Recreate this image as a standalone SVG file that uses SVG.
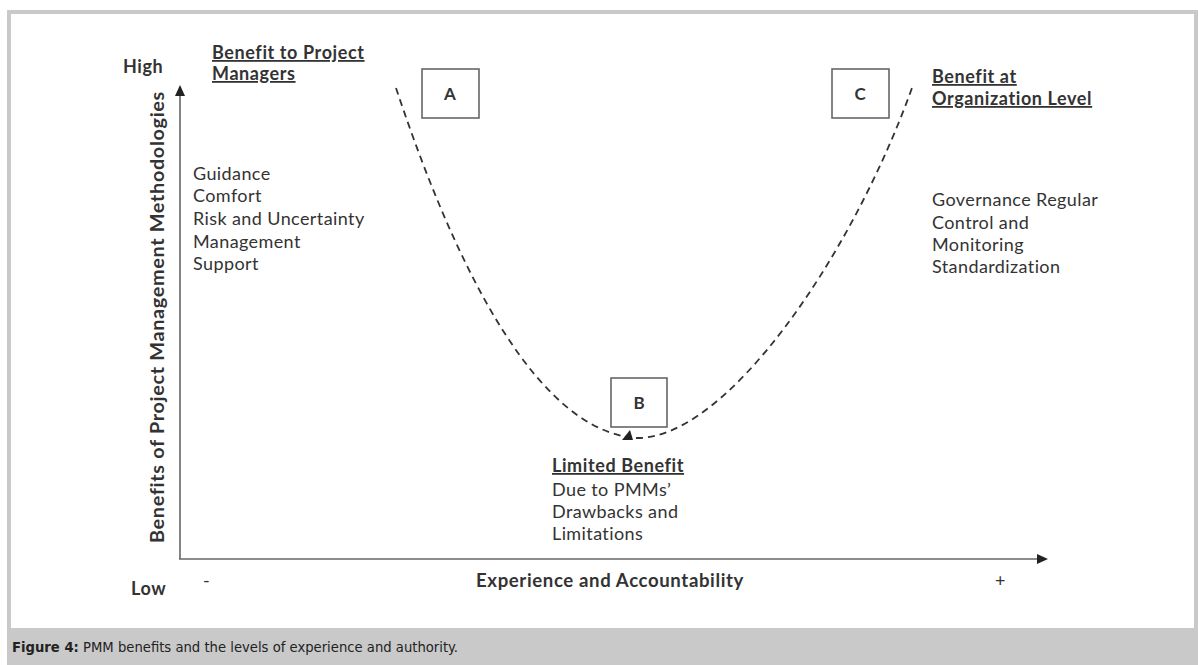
<svg xmlns="http://www.w3.org/2000/svg" width="1198" height="665" viewBox="0 0 1198 665">
<defs>
<style>
.t{font-family:Lato,"Open Sans","Liberation Sans",sans-serif;fill:#333;font-size:18px;letter-spacing:0.4px}
.b{font-weight:bold;letter-spacing:0.6px}
.u{text-decoration:underline}
.box{fill:#fff;stroke:#666;stroke-width:1.6}
.lbl{font-family:Lato,"Open Sans","Liberation Sans",sans-serif;fill:#333;font-size:17px;text-anchor:middle;font-weight:bold}
.axis{stroke:#666;stroke-width:1.6;fill:none}
.curve{stroke:#333;stroke-width:1.8;fill:none;stroke-dasharray:7 5}
.cap{font-family:"DejaVu Sans Condensed","DejaVu Sans",sans-serif;font-size:14px;fill:#222}
</style>
</defs>
<rect x="0" y="0" width="1198" height="665" fill="#fff"/>
<rect x="7" y="10" width="1191" height="655" fill="#c9c9c9"/>
<rect x="11" y="14" width="1183" height="614" fill="#fff"/>
<g id="caption">
<text class="cap" x="12" y="652" textLength="446" lengthAdjust="spacingAndGlyphs"><tspan font-weight="bold">Figure 4:</tspan> PMM benefits and the levels of experience and authority.</text>
</g>
<g id="connectors">
<line class="axis" x1="180" y1="93" x2="180" y2="559"/>
<polygon points="180,85 175,96 185,96" fill="#222"/>
<line class="axis" x1="179" y1="559" x2="1038" y2="559"/>
<polygon points="1048,559 1037,554 1037,564" fill="#222"/>
<path class="curve" d="M396,88 C440,220 520,420 628,437"/>
<path class="curve" d="M636,438 C725,440 850,260 912,88"/>
<polygon points="622,440 633,440 630,430" fill="#222"/>
</g>
<g id="axis-labels">
<text class="t b" x="123" y="73">High</text>
<text class="t b" x="131" y="595">Low</text>
<text class="t" x="203" y="587">-</text>
<text class="t" x="995" y="587">+</text>
<text class="t b" x="476" y="587" textLength="268" lengthAdjust="spacingAndGlyphs">Experience and Accountability</text>
<text class="t b" x="-543" y="164" transform="rotate(-90)" textLength="452" lengthAdjust="spacingAndGlyphs">Benefits of Project Management Methodologies</text>
</g>
<g id="node-A">
<rect class="box" x="422" y="69" width="57" height="49"/>
<text class="lbl" x="450" y="100">A</text>
</g>
<g id="node-B">
<rect class="box" x="611" y="378" width="56" height="49"/>
<text class="lbl" x="639" y="409">B</text>
</g>
<g id="node-C">
<rect class="box" x="832" y="69" width="57" height="49"/>
<text class="lbl" x="860" y="100">C</text>
</g>
<g id="pm-benefit">
<text class="t b u" x="212" y="59">Benefit to Project</text>
<text class="t b u" x="212" y="80">Managers</text>
<text class="t" x="193" y="180">Guidance</text>
<text class="t" x="193" y="202">Comfort</text>
<text class="t" x="193" y="225">Risk and Uncertainty</text>
<text class="t" x="193" y="248">Management</text>
<text class="t" x="193" y="270">Support</text>
</g>
<g id="org-benefit">
<text class="t b u" x="932" y="83">Benefit at</text>
<text class="t b u" x="932" y="105">Organization Level</text>
<text class="t" x="932" y="206">Governance Regular</text>
<text class="t" x="932" y="229">Control and</text>
<text class="t" x="932" y="251">Monitoring</text>
<text class="t" x="932" y="273">Standardization</text>
</g>
<g id="limited-benefit">
<text class="t b u" x="552" y="472">Limited Benefit</text>
<text class="t" x="552" y="496">Due to PMMs’</text>
<text class="t" x="552" y="518">Drawbacks and</text>
<text class="t" x="552" y="540">Limitations</text>
</g>
</svg>
